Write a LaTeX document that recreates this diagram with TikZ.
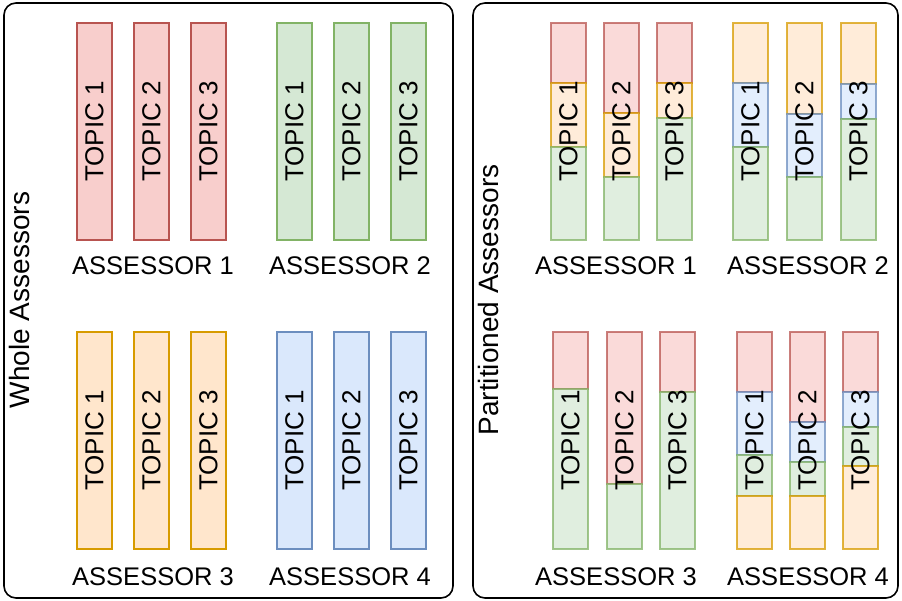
\documentclass[tikz,border=0pt]{standalone}
\usepackage{fontspec}
\setmainfont{Liberation Sans}

\definecolor{redfill}{HTML}{F8CECC}
\definecolor{redline}{HTML}{B85450}
\definecolor{greenfill}{HTML}{D5E8D4}
\definecolor{greenline}{HTML}{82B366}
\definecolor{orangefill}{HTML}{FFE6CC}
\definecolor{orangeline}{HTML}{D79B00}
\definecolor{bluefill}{HTML}{DAE8FC}
\definecolor{blueline}{HTML}{6C8EBF}

\tikzset{
  panel/.style={draw=black,line width=1.6pt,rounded corners=12pt},
  redseg/.style={fill=redfill,draw=redline},
  greenseg/.style={fill=greenfill,draw=greenline},
  orangeseg/.style={fill=orangefill,draw=orangeline},
  blueseg/.style={fill=bluefill,draw=blueline},
  barbox/.style={rectangle,rotate=90,line width=1.2pt,inner sep=0pt,
    minimum width=217pt,minimum height=35pt,font=\fontsize{26}{30}\selectfont},
  topic/.style={rotate=90,inner sep=0pt,font=\fontsize{26}{30}\selectfont},
  lab/.style={anchor=base,inner sep=0pt,font=\fontsize{25.5}{30}\selectfont},
  side/.style={rotate=90,inner sep=0pt,font=\fontsize{28}{32}\selectfont}
}

\begin{document}
\begin{tikzpicture}[x=1pt,y=-1pt]
\useasboundingbox (0,0) rectangle (902,601);
\draw[panel] (4,3) rectangle (453,598);
\draw[panel] (473,3) rectangle (898,598);
\node[side] (whole) at (19,300) {Whole Assessors};
\node[side] (parted) at (488,300) {Partitioned Assessors};
% whole assessors
\foreach \n/\x/\y/\st in {1/77/23/redseg, 2/277/23/greenseg,
                          3/77/332/orangeseg, 4/277/332/blueseg} {
  \foreach \t in {1,2,3} {
    \node[barbox,\st] (w\n t\t) at (\x+57*\t-57+17.5,\y+108.5) {TOPIC \t};
  }
}
\foreach \n/\x/\y in {1/153/275, 2/350/275, 3/153/585, 4/350/585}
  \node[lab] (wa\n) at (\x,\y) {ASSESSOR \n};
% partitioned assessors
\foreach \n/\t/\x/\segs in {
  1/1/551/{redseg/23/83,orangeseg/83/147,greenseg/147/240},
  1/2/604/{redseg/23/113,orangeseg/113/177,greenseg/177/240},
  1/3/657/{redseg/23/83,orangeseg/83/118,greenseg/118/240},
  2/1/733/{orangeseg/23/83,blueseg/83/147,greenseg/147/240},
  2/2/787/{orangeseg/23/114,blueseg/114/177,greenseg/177/240},
  2/3/841/{orangeseg/23/84,blueseg/84/119,greenseg/119/240},
  3/1/553/{redseg/332/389,greenseg/389/549},
  3/2/607/{redseg/332/484,greenseg/484/549},
  3/3/660/{redseg/332/392,greenseg/392/549},
  4/1/737/{redseg/332/392,blueseg/392/455,greenseg/455/496,orangeseg/496/549},
  4/2/790/{redseg/332/422,blueseg/422/462,greenseg/462/496,orangeseg/496/549},
  4/3/843/{redseg/332/392,blueseg/392/427,greenseg/427/466,orangeseg/466/549}} {
  \foreach \st/\a/\b in \segs
    \draw[\st,line width=1.2pt,opacity=0.75] (\x,\a) rectangle (\x+35,\b);
  \pgfmathsetmacro{\mid}{\n<3 ? 131.5 : 440.5}
  \node[topic] (p\n t\t) at (\x+17.5,\mid) {TOPIC \t};
}
\foreach \n/\x/\y in {1/616/275, 2/808/275, 3/616/585, 4/808/585}
  \node[lab] (pa\n) at (\x,\y) {ASSESSOR \n};
\end{tikzpicture}
\end{document}
